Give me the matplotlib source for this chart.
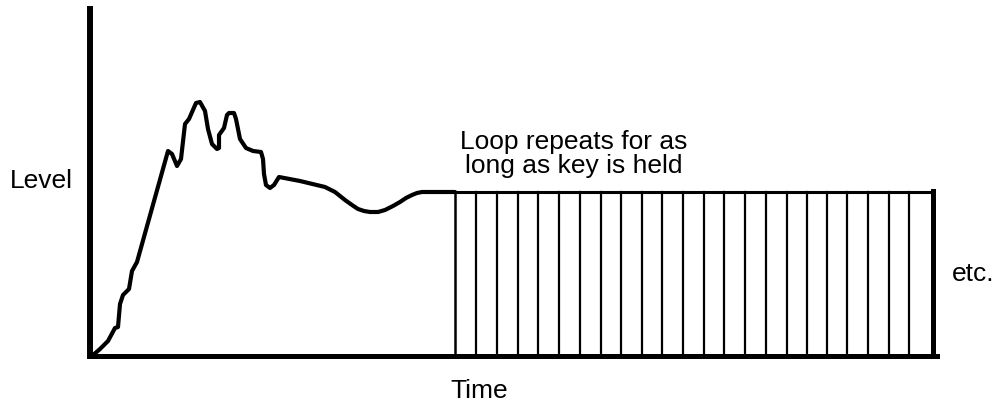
import numpy as np
import matplotlib
matplotlib.use("Agg")
import matplotlib.pyplot as plt

# envelope (time, level in arbitrary units)
attack_time = [2, 10, 18, 25, 28, 30, 33, 39, 42, 47, 78, 82, 87, 91, 95, 99, 106, 110,
               115, 118, 122, 127, 129, 129, 134, 137, 139, 144, 146, 150, 156, 163, 171,
               173, 174, 176, 180, 184, 189, 210, 235, 245, 255, 262, 268, 274, 280, 288,
               295, 303, 310, 316, 322, 327, 332, 365]
attack_level = [0, 7, 15, 28, 29, 52, 61, 67, 85, 94, 205, 202, 190, 197, 232, 237, 253, 254,
                245, 227, 212, 207, 208, 221, 228, 241, 243, 243, 237, 217, 208, 205, 204,
                197, 182, 171, 168, 171, 179, 175, 169, 164, 156, 151, 147, 145, 144, 144,
                146, 150, 154, 158, 161, 163, 164, 164]

# sustain loop: marks where each repeat of the loop begins
loop_marks = [365, 386, 407, 428, 448, 469, 490, 511, 531, 552, 572, 593, 614, 634, 655,
              676, 697, 717, 737, 757, 778, 799, 819, 843]
loop_level = 164

W, H = 997, 406
fig = plt.figure(figsize=(W / 100, H / 100), dpi=100)
ax = fig.add_axes([90 / W, (H - 357) / H, 847 / W, 347 / H])
ax.set_xlim(0, 847)
ax.set_ylim(0, 347)

ax.plot(attack_time, attack_level, color="black", lw=3, solid_joinstyle="round",
        solid_capstyle="round")

# loop box
ax.plot([loop_marks[0], loop_marks[-1]], [loop_level, loop_level], color="black", lw=2.2)
for m in loop_marks[1:-1]:
    ax.plot([m, m], [0, loop_level], color="black", lw=1.6)
ax.plot([loop_marks[0], loop_marks[0]], [0, loop_level], color="black", lw=1.8)
ax.plot([loop_marks[-1], loop_marks[-1]], [0, loop_level + 1], color="black", lw=3.6)

for side in ["top", "right"]:
    ax.spines[side].set_visible(False)
ax.spines["left"].set_linewidth(4.3)
ax.spines["bottom"].set_linewidth(3.6)
ax.set_xticks([])
ax.set_yticks([])

font = dict(family=["Liberation Sans", "DejaVu Sans"], fontsize=19, color="black")
fig.text(41 / W, 1 - 181 / H, "Level", ha="center", va="center", **font)
fig.text(479 / W, 1 - 391 / H, "Time", ha="center", va="center", **font)
fig.text(973 / W, 1 - 274 / H, "etc.", ha="center", va="center", **font)
fig.text(574 / W, 1 - 154 / H, "Loop repeats for as\nlong as key is held", ha="center",
         va="center", linespacing=0.95, **font)

fig.savefig("out.png", dpi=100)
